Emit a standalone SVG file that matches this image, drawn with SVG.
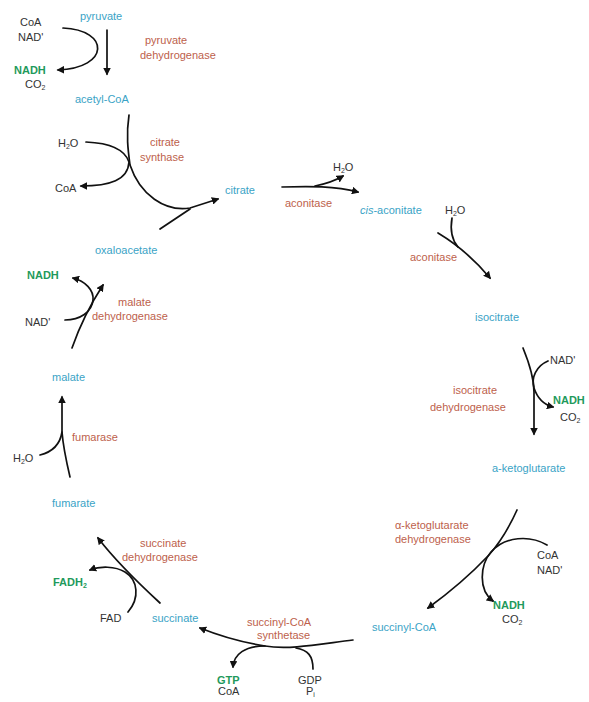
<svg xmlns="http://www.w3.org/2000/svg" width="589" height="702" viewBox="0 0 589 702">
<style>
text{font-family:"Liberation Sans",Arial,sans-serif;font-size:11px}
.m{fill:#3aa3c6}
.e{fill:#bd5f4c}
.c{fill:#333}
.g{fill:#1f9a5c;font-weight:bold}
.s{font-size:7px}
.ln{fill:none;stroke:#111;stroke-width:1.7;stroke-linecap:round}
</style>
<defs>
<marker id="ah" viewBox="0 0 10 10" refX="8" refY="5" markerWidth="4.5" markerHeight="4.5" orient="auto-start-reverse">
<path d="M0,0 L10,5 L0,10 z" fill="#111"/>
</marker>
</defs>
<rect width="589" height="702" fill="#fff"/>
<g id="connectors">
<!-- pyruvate dehydrogenase -->
<path class="ln" d="M107,30 L107,74" marker-end="url(#ah)"/>
<path class="ln" d="M63,28 C110,30 110,68 58,70" marker-end="url(#ah)"/>
<!-- citrate synthase -->
<path class="ln" d="M129,115 C126,135 128,150 130,165 C140,195 165,212 190,208 L218,199" marker-end="url(#ah)"/>
<path class="ln" d="M160,229 L190,209"/>
<path class="ln" d="M86,142 C110,143 125,150 129,162 C128,180 110,186 81,186" marker-end="url(#ah)"/>
<!-- aconitase 1 -->
<path class="ln" d="M282,187 C310,186 335,186 358,192" marker-end="url(#ah)"/>
<path class="ln" d="M315,186 C325,184 333,182 343,176" marker-end="url(#ah)"/>
<!-- aconitase 2 -->
<path class="ln" d="M438,233 C458,245 475,260 490,278" marker-end="url(#ah)"/>
<path class="ln" d="M452,218 C450,230 452,240 458,247"/>
<!-- isocitrate dehydrogenase -->
<path class="ln" d="M523,348 C530,365 534,378 534,392 L534,434" marker-end="url(#ah)"/>
<path class="ln" d="M548,361 C536,366 531,378 534,388 C538,400 545,405 553,407" marker-end="url(#ah)"/>
<!-- alpha-ketoglutarate dehydrogenase -->
<path class="ln" d="M517,510 C508,530 498,545 488,556 C470,575 450,592 428,608" marker-end="url(#ah)"/>
<path class="ln" d="M547,545 C530,535 505,536 491,552 C480,565 478,590 493,601" marker-end="url(#ah)"/>
<!-- succinyl-CoA synthetase -->
<path class="ln" d="M353,640 C320,644 290,650 265,646 C240,642 220,636 200,628" marker-end="url(#ah)"/>
<path class="ln" d="M265,646 C245,646 234,654 233,667" marker-end="url(#ah)"/>
<path class="ln" d="M313,669 C313,656 308,650 296,648"/>
<!-- succinate dehydrogenase -->
<path class="ln" d="M160,603 C135,580 115,560 98,538" marker-end="url(#ah)"/>
<path class="ln" d="M128,612 C140,598 138,580 125,572 C115,566 100,566 90,570" marker-end="url(#ah)"/>
<!-- fumarase -->
<path class="ln" d="M70,477 C66,460 63,445 62,432 L62,397" marker-end="url(#ah)"/>
<path class="ln" d="M40,455 C52,452 60,445 62,432"/>
<!-- malate dehydrogenase -->
<path class="ln" d="M72,348 C80,325 90,305 103,285" marker-end="url(#ah)"/>
<path class="ln" d="M65,320 C80,320 92,312 93,300 C94,290 85,281 73,278" marker-end="url(#ah)"/>
</g>
<g id="pyruvate"><text class="m" x="80" y="20">pyruvate</text></g>
<g id="pdh">
<text class="e" x="145" y="44">pyruvate</text>
<text class="e" x="140" y="59">dehydrogenase</text>
<text class="c" x="20" y="26">CoA</text>
<text class="c" x="18" y="41">NAD'</text>
<text class="g" x="14" y="74">NADH</text>
<text class="c" x="25" y="88">CO<tspan class="s" dy="2">2</tspan></text>
</g>
<g id="acetylcoa"><text class="m" x="75" y="103">acetyl-CoA</text></g>
<g id="cs">
<text class="e" x="150" y="146">citrate</text>
<text class="e" x="140" y="161">synthase</text>
<text class="c" x="58" y="147">H<tspan class="s" dy="2">2</tspan><tspan dy="-2">O</tspan></text>
<text class="c" x="55" y="192">CoA</text>
</g>
<g id="citrate"><text class="m" x="225" y="194">citrate</text></g>
<g id="oxaloacetate"><text class="m" x="95" y="254">oxaloacetate</text></g>
<g id="aconitase1">
<text class="c" x="333" y="171">H<tspan class="s" dy="2">2</tspan><tspan dy="-2">O</tspan></text>
<text class="e" x="285" y="207">aconitase</text>
</g>
<g id="cisaconitate"><text class="m" x="360" y="214"><tspan font-style="italic">cis</tspan>-aconitate</text></g>
<g id="aconitase2">
<text class="c" x="445" y="214">H<tspan class="s" dy="2">2</tspan><tspan dy="-2">O</tspan></text>
<text class="e" x="410" y="261">aconitase</text>
</g>
<g id="isocitrate"><text class="m" x="475" y="321">isocitrate</text></g>
<g id="idh">
<text class="e" x="453" y="394">isocitrate</text>
<text class="e" x="430" y="411">dehydrogenase</text>
<text class="c" x="550" y="364">NAD'</text>
<text class="g" x="553" y="404">NADH</text>
<text class="c" x="560" y="421">CO<tspan class="s" dy="2">2</tspan></text>
</g>
<g id="aketoglutarate"><text class="m" x="492" y="472">a-ketoglutarate</text></g>
<g id="akgdh">
<text class="e" x="395" y="529">α-ketoglutarate</text>
<text class="e" x="395" y="543">dehydrogenase</text>
<text class="c" x="537" y="559">CoA</text>
<text class="c" x="537" y="574">NAD'</text>
<text class="g" x="493" y="609">NADH</text>
<text class="c" x="502" y="623">CO<tspan class="s" dy="2">2</tspan></text>
</g>
<g id="succinylcoa"><text class="m" x="372" y="631">succinyl-CoA</text></g>
<g id="scs">
<text class="e" x="247" y="626">succinyl-CoA</text>
<text class="e" x="257" y="639">synthetase</text>
<text class="g" x="217" y="684">GTP</text>
<text class="c" x="218" y="695">CoA</text>
<text class="c" x="298" y="684">GDP</text>
<text class="c" x="306" y="695">P<tspan class="s" dy="2">i</tspan></text>
</g>
<g id="succinate"><text class="m" x="152" y="622">succinate</text></g>
<g id="sdh">
<text class="e" x="140" y="547">succinate</text>
<text class="e" x="122" y="561">dehydrogenase</text>
<text class="g" x="53" y="586">FADH<tspan class="s" dy="2">2</tspan></text>
<text class="c" x="100" y="622">FAD</text>
</g>
<g id="fumarate"><text class="m" x="52" y="507">fumarate</text></g>
<g id="fumarase">
<text class="e" x="72" y="441">fumarase</text>
<text class="c" x="13" y="462">H<tspan class="s" dy="2">2</tspan><tspan dy="-2">O</tspan></text>
</g>
<g id="malate"><text class="m" x="52" y="381">malate</text></g>
<g id="mdh">
<text class="e" x="118" y="306">malate</text>
<text class="e" x="92" y="320">dehydrogenase</text>
<text class="g" x="27" y="279">NADH</text>
<text class="c" x="25" y="326">NAD'</text>
</g>
</svg>
